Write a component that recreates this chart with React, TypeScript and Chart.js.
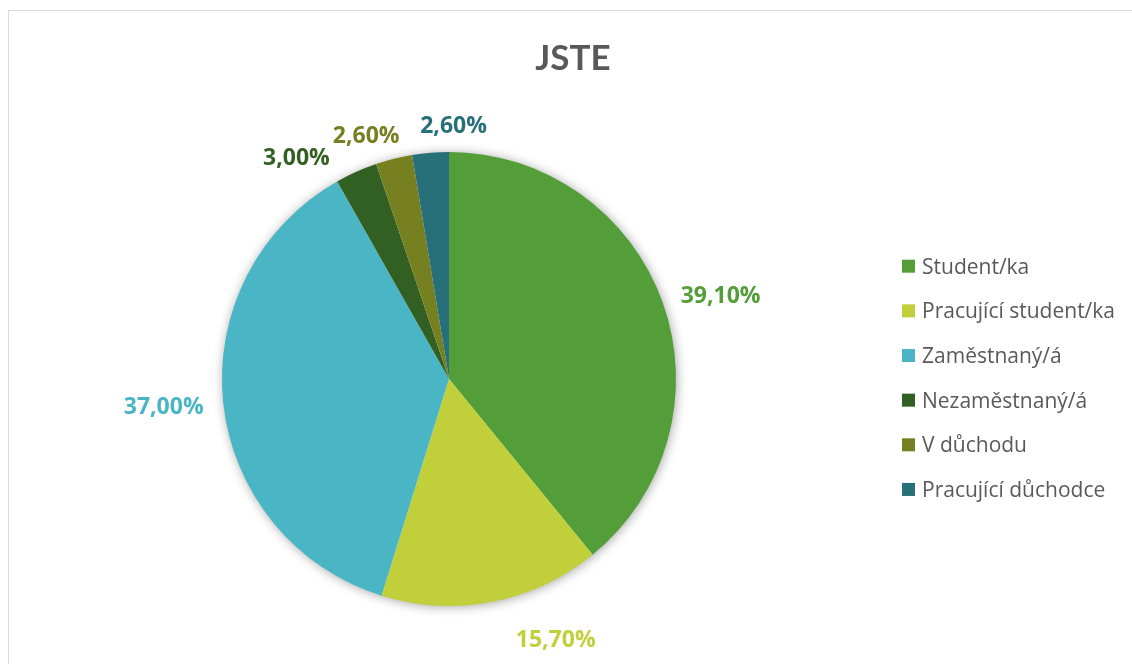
import React, { useEffect, useRef } from "react";
import { Chart, registerables } from "chart.js";

Chart.register(...registerables);

const chartTitle = "JSTE";
const categories = [
  "Student/ka",
  "Pracující student/ka",
  "Zaměstnaný/á",
  "Nezaměstnaný/á",
  "V důchodu",
  "Pracující důchodce",
];
const shares = [39.1, 15.7, 37.0, 3.0, 2.6, 2.6];
const sliceColors = ["#549E39", "#C0CF3A", "#4AB5C4", "#325F22", "#768021", "#287079"];
// small per-label nudges (Excel "best fit" label placement)
const labelNudges = [
  [6, 0],
  [53, 12],
  [-5, 0],
  [-40, 8],
  [-16, 0],
  [27, -3],
];

const TITLE_FONT = "Lato, 'Open Sans', sans-serif";
const FONT = "'Open Sans', Lato, sans-serif";
const TEXT_GRAY = "#595959";

const fmt = (v: number) => v.toFixed(2).replace(".", ",") + "%";

const decorPlugin = {
  id: "decor",
  beforeDatasetsDraw(chart: any) {
    const ctx = chart.ctx;
    const arc = chart.getDatasetMeta(0).data[0];
    if (!arc) return;
    const { x, y, outerRadius } = arc.getProps(["x", "y", "outerRadius"], true);
    ctx.save();
    ctx.shadowColor = "rgba(0,0,0,0.4)";
    ctx.shadowBlur = 12;
    ctx.shadowOffsetX = 1;
    ctx.shadowOffsetY = 1;
    ctx.fillStyle = "#ffffff";
    ctx.beginPath();
    ctx.arc(x, y, outerRadius - 1, 0, Math.PI * 2);
    ctx.fill();
    ctx.restore();
  },
  afterDatasetsDraw(chart: any) {
    const ctx = chart.ctx;
    const meta = chart.getDatasetMeta(0);
    const ds = chart.data.datasets[0];
    ctx.save();
    const size = 23;
    ctx.font = `bold ${size}px ${FONT}`;
    ctx.textAlign = "center";
    ctx.textBaseline = "alphabetic";
    const gap = 15;
    const digitH = size * 0.714;
    meta.data.forEach((el: any, i: number) => {
      const { x, y, startAngle, endAngle, outerRadius } = el.getProps(
        ["x", "y", "startAngle", "endAngle", "outerRadius"],
        true
      );
      const mid = (startAngle + endAngle) / 2;
      const c = Math.cos(mid);
      const s = Math.sin(mid);
      const text = fmt(ds.data[i]);
      const w = ctx.measureText(text).width / 2;
      const h = digitH / 2 + 2;
      const ax = x + (outerRadius + gap) * c;
      const ay = y + (outerRadius + gap) * s;
      const cx = ax + w * c + labelNudges[i][0];
      const cy = ay + h * s + labelNudges[i][1];
      ctx.fillStyle = ds.backgroundColor[i];
      ctx.fillText(text, cx, cy + digitH / 2);
    });
    ctx.restore();
  },
  afterDraw(chart: any) {
    const ctx = chart.ctx;
    ctx.save();
    // title
    const tSize = 35;
    ctx.font = `bold ${tSize}px ${TITLE_FONT}`;
    ctx.fillStyle = TEXT_GRAY;
    ctx.textAlign = "center";
    ctx.textBaseline = "alphabetic";
    ctx.fillText(chartTitle, 573, 57.5 + (tSize * 0.72) / 2);
    // legend
    const lSize = 21;
    ctx.font = `${lSize}px ${FONT}`;
    ctx.textAlign = "left";
    const labels = chart.data.labels;
    const colors = chart.data.datasets[0].backgroundColor;
    labels.forEach((lab: string, i: number) => {
      const rowY = 266.2 + i * 44.65;
      ctx.fillStyle = colors[i];
      ctx.fillRect(902, rowY - 6.5, 13, 13);
      ctx.fillStyle = TEXT_GRAY;
      ctx.fillText(lab, 922, rowY + (lSize * 0.714) / 2);
    });
    ctx.restore();
  },
};

export default function App() {
  const ref = useRef<HTMLCanvasElement | null>(null);
  useEffect(() => {
    if (!ref.current) return;
    const chart = new Chart(ref.current, {
      type: "pie",
      data: {
        labels: categories,
        datasets: [
          {
            data: shares,
            backgroundColor: sliceColors,
            borderWidth: 0,
            hoverOffset: 0,
          },
        ],
      },
      options: {
        responsive: false,
        animation: false,
        devicePixelRatio: 1,
        layout: { padding: { left: 199, right: 433, top: 152, bottom: 58 } },
        plugins: {
          legend: { display: false },
          title: { display: false },
          tooltip: { enabled: false },
        },
        events: [],
      },
      plugins: [decorPlugin],
    });
    return () => chart.destroy();
  }, []);
  return (
    <div>
      <div
        style={{
          position: "fixed",
          left: 8,
          top: 10,
          width: 1200,
          height: 800,
          border: "1px solid #d9d9d9",
          boxSizing: "border-box",
        }}
      />
      <canvas
        ref={ref}
        width={1132}
        height={664}
        style={{ position: "fixed", left: 0, top: 0, width: 1132, height: 664 }}
      />
    </div>
  );
}
